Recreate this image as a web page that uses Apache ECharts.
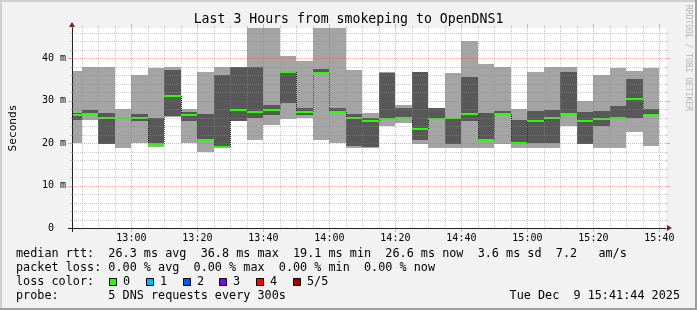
<!DOCTYPE html>
<html><head><meta charset="utf-8">
<script src="https://cdn.jsdelivr.net/npm/echarts@6/dist/echarts.min.js"></script>
<style>html,body{margin:0;padding:0;background:#f2f2f2}#c{width:697px;height:310px}</style>
</head><body><div id="c"></div>
<script>
// ---- data ----
const titleText = 'Last 3 Hours from smokeping to OpenDNS1';
const yAxisName = 'Seconds';
const slots = ['12:40','12:45','12:50','12:55','13:00','13:05','13:10','13:15','13:20','13:25',
  '13:30','13:35','13:40','13:45','13:50','13:55','14:00','14:05','14:10','14:15',
  '14:20','14:25','14:30','14:35','14:40','14:45','14:50','14:55','15:00','15:05',
  '15:10','15:15','15:20','15:25','15:30','15:35'];
const pingMin    = [20.0,25.3,19.7,18.9,20.0,19.0,26.2,20.0,18.0,18.8,25.1,20.6,24.3,25.7,25.9,20.6,19.9,18.9,18.9,24.1,24.7,19.7,18.9,18.9,18.9,18.9,19.8,18.9,18.9,18.9,24.1,19.7,18.9,18.9,22.6,19.4];
const pingLow    = [25.3,26.7,19.8,25.7,25.1,19.6,26.3,25.1,20.4,18.95,25.2,26.0,26.7,29.5,26.5,36.2,27.0,19.4,19.0,25.5,25.7,20.6,25.4,19.7,25.1,20.5,26.6,19.8,20.0,20.0,26.5,19.8,24.1,25.7,25.9,26.3];
const pingMedian = [26.65,26.85,26.0,25.95,25.95,19.75,31.0,26.6,20.6,19.1,27.8,27.2,27.8,36.8,27.2,36.4,27.2,26.0,25.1,25.7,26.0,23.2,25.6,25.95,26.8,20.7,26.9,19.9,25.1,26.0,26.8,25.2,25.7,26.0,30.4,26.6];
const pingHigh   = [27.0,27.8,27.1,26.1,26.9,25.9,37.1,27.3,26.9,35.9,37.8,38.0,29.0,36.9,28.3,37.5,28.3,26.9,26.0,36.5,28.3,36.7,28.2,26.1,35.5,27.1,27.5,25.3,27.5,27.8,36.7,27.3,27.5,28.7,35.1,28.1];
const pingMax    = [37.0,38.0,38.0,28.1,35.9,37.7,38.0,28.1,36.7,38.0,37.9,48.0,48.0,40.5,39.2,48.0,48.0,37.2,27.1,36.7,29.0,36.8,28.3,36.5,44.0,38.7,38.0,28.1,36.7,38.0,38.0,29.9,36.1,37.7,37.0,37.7];
const timeTicks  = ['13:00','13:20','13:40','14:00','14:20','14:40','15:00','15:20','15:40'];
const valueTicks = [0,10,20,30,40];
const rangeStart = '12:42', rangeEnd = '15:42';
const yMax = 47.06;
const stepMinutes = 5;
const statsLines = [
  'median rtt:  26.3 ms avg  36.8 ms max  19.1 ms min  26.6 ms now  3.6 ms sd  7.2   am/s',
  'packet loss: 0.00 % avg  0.00 % max  0.00 % min  0.00 % now',
  'loss color:',
  'probe:       5 DNS requests every 300s'
];
const stampText = 'Tue Dec  9 15:41:44 2025';
const lossLabels = ['0','1','2','3','4','5/5'];
const lossColors = ['#26ff00','#00b8ff','#0059ff','#7e00ff','#ff0000','#a10000'];
const watermark = 'RRDTOOL / TOBI OETIKER';

// ---- helpers / styles ----
const MONO = '"DejaVu Sans Mono", monospace';
const toMin = s => { const p = s.split(':').map(Number); return p[0]*60 + p[1]; };
const fmt = v => String(Math.floor(v/60)).padStart(2,'0') + ':' + String(Math.round(v%60)).padStart(2,'0');
const xMin = toMin(rangeStart), xMax = toMin(rangeEnd);
const gridSteps = {yMinor:2, yMajor:10, xMinor:5, xMajor:20};

function smokeItem(params, api) {
  const t = api.value(0), cs = params.coordSys;
  const xa = Math.round(api.coord([t, 0])[0]);
  const xb = Math.round(api.coord([t + stepMinutes, 0])[0]);
  const py = k => Math.round(api.coord([t, api.value(k)])[1]);
  const kids = [];
  const add = (top, bottom, fill) => {
    if (bottom - top <= 0) return;
    const r = echarts.graphic.clipRectByRect({x: xa, y: top, width: xb - xa, height: bottom - top}, cs);
    if (r && r.width > 0 && r.height > 0) kids.push({type: 'rect', shape: r, style: {fill: fill}});
  };
  add(py(5), py(1), '#a4a4a4');
  add(py(4), py(2), '#585858');
  return {type: 'group', children: kids};
}

function medianItem(params, api) {
  const t = api.value(0), cs = params.coordSys, i = params.dataIndex;
  const xa = Math.max(Math.round(api.coord([t, 0])[0]), cs.x);
  const xb = Math.min(Math.round(api.coord([t + stepMinutes, 0])[0]), cs.x + cs.width);
  const ym = Math.round(api.coord([t, api.value(1)])[1]);
  const kids = [];
  if (i > 0) {
    const yp = Math.round(api.coord([t, pingMedian[i-1]])[1]);
    kids.push({type: 'line', shape: {x1: xa + 0.5, y1: yp, x2: xa + 0.5, y2: ym},
      style: {stroke: '#202020', lineWidth: 1, lineDash: [1, 1]}});
  }
  kids.push({type: 'line', shape: {x1: xa, y1: ym, x2: xb, y2: ym},
    style: {stroke: lossColors[0], lineWidth: 2}});
  return {type: 'group', children: kids};
}

function gridItem(params, api) {
  const cs = params.coordSys;
  const x0 = cs.x, x1 = cs.x + cs.width, yb = cs.y + cs.height, yt = cs.y;
  const minorC = 'rgba(143,143,143,0.46)', majorC = 'rgba(222,80,80,0.46)';
  const kids = [];
  const seg = (a, b, c, d, col, dash) => kids.push({type: 'line', shape: {x1: a, y1: b, x2: c, y2: d},
    style: {stroke: col, lineWidth: 1, lineDash: dash ? [1, 1] : null}});
  for (let v = gridSteps.yMinor; v < yMax; v += gridSteps.yMinor) {
    const major = v % gridSteps.yMajor === 0;
    const y = Math.round(api.coord([xMin, v])[1]) + 0.5;
    const col = major ? majorC : minorC, ext = major ? 4 : 2;
    seg(x0 - ext, y, x0, y, col, false);
    seg(x0, y, x1, y, col, true);
    seg(x1, y, x1 + ext, y, col, false);
  }
  const first = Math.ceil(xMin / gridSteps.xMinor) * gridSteps.xMinor;
  for (let v = first; v <= xMax; v += gridSteps.xMinor) {
    if (v === xMin) continue;
    const major = v % gridSteps.xMajor === 0;
    const x = Math.round(api.coord([v, 0])[0]) + 0.5;
    const col = major ? majorC : minorC, ext = major ? 4 : 2;
    seg(x, yb + ext, x, yb, col, false);
    seg(x, yb, x, yt, col, true);
    seg(x, yt, x, yt - ext, col, false);
  }
  // axis stubs past the origin
  seg(x0 - 4, yb + 0.5, x0, yb + 0.5, '#1f1f1f', false);
  seg(x0 + 0.5, yb, x0 + 0.5, yb + 4, '#1f1f1f', false);
  return {type: 'group', children: kids};
}

const statsFont = '11.8px ' + MONO;
const graphic = [
  {type: 'rect', silent: true, shape: {x: 0, y: 0, width: 697, height: 2}, style: {fill: '#cfcfcf'}},
  {type: 'rect', silent: true, shape: {x: 0, y: 0, width: 2, height: 310}, style: {fill: '#cfcfcf'}},
  {type: 'rect', silent: true, shape: {x: 0, y: 308, width: 697, height: 2}, style: {fill: '#9e9e9e'}},
  {type: 'rect', silent: true, shape: {x: 695, y: 0, width: 2, height: 310}, style: {fill: '#9e9e9e'}},
  {type: 'text', silent: true, x: 688, y: 5, rotation: -Math.PI / 2,
    style: {text: watermark, font: '8px ' + MONO, fill: '#b4b4b4', align: 'left', verticalAlign: 'middle'}},
  {type: 'text', silent: true, x: 680, y: 296,
    style: {text: stampText, font: statsFont, fill: '#000', align: 'right', verticalAlign: 'middle'}}
];
statsLines.forEach((s, i) => graphic.push({type: 'text', silent: true, x: 16, y: 254 + i * 14,
  style: {text: s, font: statsFont, fill: '#000', align: 'left', verticalAlign: 'middle'}}));
lossLabels.forEach((s, i) => {
  const bx = 109 + Math.round(i * 36.8);
  graphic.push({type: 'rect', silent: true, shape: {x: bx + 0.5, y: 278.5, width: 7, height: 7},
    style: {fill: lossColors[i], stroke: '#000', lineWidth: 1}});
  graphic.push({type: 'text', silent: true, x: bx + 14, y: 282,
    style: {text: s, font: statsFont, fill: '#000', align: 'left', verticalAlign: 'middle'}});
});

const chart = echarts.init(document.getElementById('c'), null, {renderer: 'canvas'});
chart.setOption({
  animation: false,
  backgroundColor: '#f2f2f2',
  title: {text: titleText, left: 'center', top: 13, padding: 0,
    textStyle: {fontFamily: MONO, fontSize: 13.2, fontWeight: 'normal', color: '#000'}},
  grid: {left: 66, right: 31, top: 28, bottom: 82, show: true, backgroundColor: '#ffffff', borderWidth: 0},
  xAxis: [
    {type: 'value', min: xMin, max: xMax, position: 'bottom', z: 3,
      axisLine: {show: true, onZero: false, lineStyle: {color: '#1f1f1f', width: 1}},
      axisTick: {show: false}, splitLine: {show: false},
      axisLabel: {customValues: timeTicks.map(toMin), formatter: fmt, fontFamily: MONO, fontSize: 10, color: '#000', margin: 5}},
    {type: 'value', min: xMin, max: xMax, position: 'bottom', z: 2,
      axisLine: {show: true, onZero: false, lineStyle: {color: '#7f1f1f', width: 1},
        symbol: ['none', 'triangle'], symbolSize: [6, 5], symbolOffset: [0, 3.5]},
      axisTick: {show: false}, axisLabel: {show: false}, splitLine: {show: false}}
  ],
  yAxis: [
    {type: 'value', min: 0, max: yMax, interval: 10, position: 'left', z: 3,
      name: yAxisName, nameLocation: 'middle', nameGap: 53, nameRotate: 90,
      nameTextStyle: {fontFamily: MONO, fontSize: 11.2, color: '#000'},
      axisLine: {show: true, onZero: false, lineStyle: {color: '#1f1f1f', width: 1}},
      axisTick: {show: false}, splitLine: {show: false},
      axisLabel: {customValues: valueTicks, formatter: v => v === 0 ? '0  ' : v + ' m',
        fontFamily: MONO, fontSize: 10, color: '#000', margin: 6}},
    {type: 'value', min: 0, max: yMax, position: 'left', z: 2,
      axisLine: {show: true, onZero: false, lineStyle: {color: '#7f1f1f', width: 1},
        symbol: ['none', 'triangle'], symbolSize: [6, 5], symbolOffset: [0, 3.5]},
      axisTick: {show: false}, axisLabel: {show: false}, splitLine: {show: false}}
  ],
  series: [
    {type: 'custom', name: 'smoke', xAxisIndex: 0, yAxisIndex: 0, z: 2, silent: true,
      renderItem: smokeItem, encode: {x: 0, y: [1, 5]},
      data: slots.map((s, i) => [toMin(s), pingMin[i], pingLow[i], pingMedian[i], pingHigh[i], pingMax[i]])},
    {type: 'custom', name: 'median', xAxisIndex: 0, yAxisIndex: 0, z: 3, silent: true,
      renderItem: medianItem, encode: {x: 0, y: 1},
      data: slots.map((s, i) => [toMin(s), pingMedian[i]])},
    {type: 'custom', name: 'grid', xAxisIndex: 0, yAxisIndex: 0, z: 4, silent: true,
      renderItem: gridItem, encode: {x: 0, y: 1},
      data: [[xMin, 0]]}
  ],
  graphic: graphic
});
</script></body></html>
